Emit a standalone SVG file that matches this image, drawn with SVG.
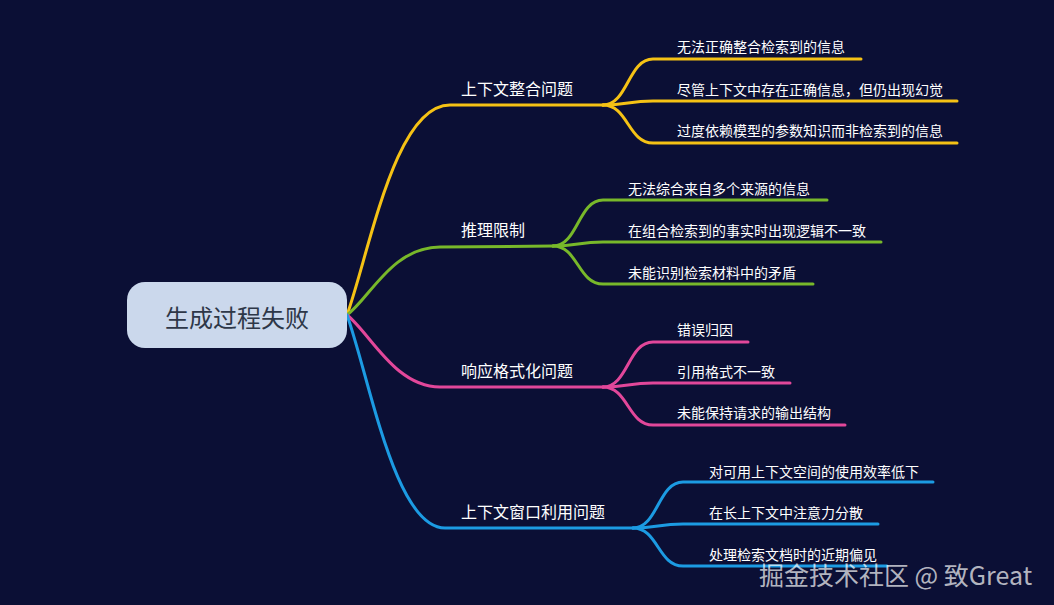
<svg xmlns="http://www.w3.org/2000/svg" width="1054" height="605" viewBox="0 0 1054 605">
<style>
.bg{fill:#0b0f35}
.root{fill:#cbd8ec}
.roottxt{font-family:"Noto Sans CJK SC","Liberation Sans",sans-serif;font-size:24px;fill:#2e3748;text-anchor:middle}
.br{font-family:"Noto Sans CJK SC","Liberation Sans",sans-serif;font-size:16px;fill:#ffffff}
.lf{font-family:"Noto Sans CJK SC","Liberation Sans",sans-serif;font-size:14px;fill:#ffffff}
.c{fill:none;stroke-width:3;stroke-linecap:round}
.y{stroke:#f5c215}
.g{stroke:#78b82a}
.p{stroke:#e2479a}
.b{stroke:#1c9be3}
.wm{font-family:"Noto Sans CJK SC","Liberation Sans",sans-serif;font-size:25px;fill:#ffffff;fill-opacity:0.7}
</style>
<rect class="bg" x="0" y="0" width="1054" height="605"/>
<g id="connectors">
  <path class="c y" d="M347,315 C370,250 395,105 450,105 L603,105"/>
  <path class="c g" d="M347,315 C370,298 392,247 440,247 L553,246"/>
  <path class="c p" d="M347,315 C370,333 395,387 440,387 L603,387"/>
  <path class="c b" d="M347,315 C370,380 395,528 445,528 L633,528"/>
  <path class="c y" d="M603,105 C628,105 628,59 653,59 L861,59"/>
  <path class="c y" d="M603,105 C628,105 628,101 653,101 L957,101"/>
  <path class="c y" d="M603,105 C628,105 628,143 653,143 L957,143"/>
  <path class="c g" d="M553,246 C578,246 578,200 603,200 L827,200"/>
  <path class="c g" d="M553,246 C578,246 578,242 603,242 L881,242"/>
  <path class="c g" d="M553,246 C578,246 578,284 603,284 L813,284"/>
  <path class="c p" d="M603,387 C628,387 628,342 653,342 L748,342"/>
  <path class="c p" d="M603,387 C628,387 628,383 653,383 L790,383"/>
  <path class="c p" d="M603,387 C628,387 628,425 653,425 L845,425"/>
  <path class="c b" d="M633,528 C658,528 658,482 683,482 L933,482"/>
  <path class="c b" d="M633,528 C658,528 658,524 683,524 L878,524"/>
  <path class="c b" d="M633,528 C658,528 658,566 683,566 L887,566"/>
</g>
<g id="root">
  <rect class="root" x="127" y="282" width="220" height="66" rx="18"/>
  <text class="roottxt" x="237" y="327">生成过程失败</text>
</g>
<g id="branch1">
  <text class="br" x="461" y="95">上下文整合问题</text>
</g>
<g id="b1l1"><text class="lf" x="677" y="52">无法正确整合检索到的信息</text></g>
<g id="b1l2"><text class="lf" x="677" y="95">尽管上下文中存在正确信息，但仍出现幻觉</text></g>
<g id="b1l3"><text class="lf" x="677" y="136">过度依赖模型的参数知识而非检索到的信息</text></g>
<g id="branch2">
  <text class="br" x="461" y="236">推理限制</text>
</g>
<g id="b2l1"><text class="lf" x="628" y="194">无法综合来自多个来源的信息</text></g>
<g id="b2l2"><text class="lf" x="628" y="236">在组合检索到的事实时出现逻辑不一致</text></g>
<g id="b2l3"><text class="lf" x="628" y="278">未能识别检索材料中的矛盾</text></g>
<g id="branch3">
  <text class="br" x="461" y="377">响应格式化问题</text>
</g>
<g id="b3l1"><text class="lf" x="677" y="335">错误归因</text></g>
<g id="b3l2"><text class="lf" x="677" y="377">引用格式不一致</text></g>
<g id="b3l3"><text class="lf" x="677" y="418">未能保持请求的输出结构</text></g>
<g id="branch4">
  <text class="br" x="461" y="518">上下文窗口利用问题</text>
</g>
<g id="b4l1"><text class="lf" x="709" y="477">对可用上下文空间的使用效率低下</text></g>
<g id="b4l2"><text class="lf" x="709" y="518">在长上下文中注意力分散</text></g>
<g id="b4l3"><text class="lf" x="709" y="560">处理检索文档时的近期偏见</text></g>
<text class="wm" x="759" y="585">掘金技术社区 @ 致Great</text>
</svg>
